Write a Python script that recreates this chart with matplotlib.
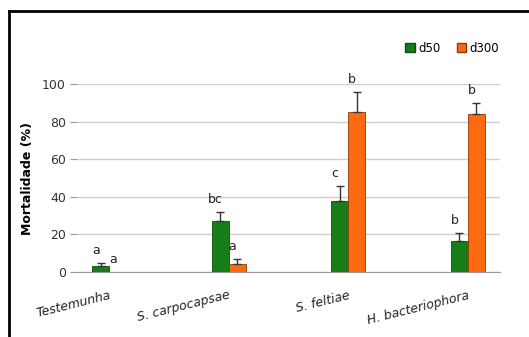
import numpy as np
import matplotlib
matplotlib.use("Agg")
import matplotlib.pyplot as plt
from matplotlib.lines import Line2D
from matplotlib.patches import Patch

categories = ["Testemunha", "S. carpocapsae", "S. feltiae", "H. bacteriophora"]
d50 = [3, 27, 38, 16.5]
d50_err = [2, 5, 8, 4.5]
d300 = [0, 4, 85, 84]
d300_err = [0, 3, 11, 6]
d50_letters = ["a", "bc", "c", "b"]
d300_letters = ["a", "a", "b", "b"]

green = "#177d17"
orange = "#ff6a10"

fig = plt.figure(figsize=(5.29, 3.37), dpi=100)
ax = fig.add_axes([0.1456, 0.1929, 0.7994, 0.5578])

x = np.arange(len(categories))
w = 0.142
ax.bar(x - w/2, d50, w, color=green, edgecolor="#0d4d0d", linewidth=0.6, zorder=3)
o_edges = ["none" if v == 0 else "#8a3a08" for v in d300]
ax.bar(x + w/2, d300, w, color=orange, edgecolor=o_edges, linewidth=0.6, zorder=3)

# upward-only error bars, skipped where there is no error
for xs, vals, errs in [(x - w/2, d50, d50_err), (x + w/2, d300, d300_err)]:
    idx = [i for i in range(len(vals)) if errs[i] > 0]
    ax.errorbar(xs[idx], np.array(vals)[idx],
                yerr=[np.zeros(len(idx)), np.array(errs)[idx]],
                fmt="none", ecolor="#333333", elinewidth=1, capsize=3, capthick=1, zorder=4)

for i in range(len(categories)):
    ax.text(x[i] - w/2 - 0.04, d50[i] + d50_err[i] + 3, d50_letters[i],
            ha="center", va="bottom", fontsize=9, color="#222222", clip_on=False)
    ax.text(x[i] + w/2 - 0.04, d300[i] + d300_err[i] + 3, d300_letters[i],
            ha="center", va="bottom", fontsize=9, color="#222222", clip_on=False)

ax.set_xlim(-0.27, 3.27)
ax.set_ylim(0, 100)
ax.set_yticks([0, 20, 40, 60, 80, 100])
ax.yaxis.grid(True, color="#cfcfcf", linewidth=1)
ax.set_axisbelow(True)
for s in ["top", "right", "left"]:
    ax.spines[s].set_visible(False)
ax.spines["bottom"].set_color("#999999")
ax.tick_params(axis="y", length=5, color="#999999", labelsize=9, labelcolor="#333333", pad=3)
ax.tick_params(axis="x", length=0, pad=12)
ax.set_xticks(x)
ax.set_xticklabels(categories, rotation=14, ha="right", fontsize=9, style="italic",
                   color="#222222", rotation_mode="anchor")
ax.set_ylabel("Mortalidade (%)", fontsize=9, fontweight="bold", labelpad=6)

handles = [Patch(facecolor=green, edgecolor="#0d4d0d", label="d50"),
           Patch(facecolor=orange, edgecolor="#8a3a08", label="d300")]
fig.legend(handles=handles, loc="center", bbox_to_anchor=(0.855, 0.857), ncol=2,
           frameon=False, fontsize=8.5, handlelength=0.8, handleheight=0.8,
           handletextpad=0.3, columnspacing=1.4)

# border lines (left and top)
fig.add_artist(Line2D([0.017, 0.017], [0, 0.967], color="black", linewidth=2, transform=fig.transFigure))
fig.add_artist(Line2D([0.017, 1.0], [0.967, 0.967], color="black", linewidth=2, transform=fig.transFigure))

fig.savefig("out.png", dpi=100)
